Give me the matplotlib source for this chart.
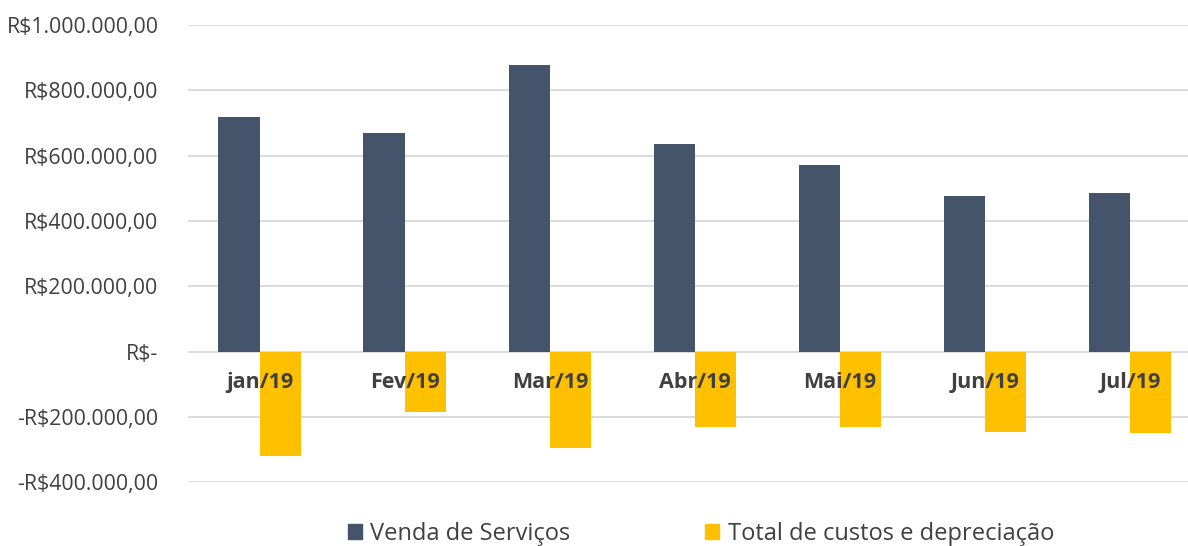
import matplotlib.pyplot as plt
import numpy as np
from matplotlib.patches import Patch
from matplotlib.ticker import FuncFormatter

plt.rcParams['font.family'] = ['Open Sans', 'DejaVu Sans']

# dados
meses = ['jan/19', 'Fev/19', 'Mar/19', 'Abr/19', 'Mai/19', 'Jun/19', 'Jul/19']
venda_servicos = [718000, 669000, 877000, 635000, 571000, 475000, 485000]
custos_depreciacao = [-319000, -184000, -297000, -230000, -230000, -245000, -251000]

AZUL = '#44546A'
AMARELO = '#FFC000'
TEXTO = '#404040'


def formato_real(v, pos):
    if abs(v) < 1:
        return 'R$-'
    s = f'{abs(v):,.2f}'.replace(',', 'X').replace('.', ',').replace('X', '.')
    return ('-' if v < 0 else '') + 'R$' + s


fig = plt.figure(figsize=(11.88, 5.46), dpi=100)
ax = fig.add_axes([0.158, 0.117, 0.842, 0.837])

x = np.arange(len(meses))
w = 0.285
ax.bar(x - w / 2, venda_servicos, w, color=AZUL, zorder=2)
ax.bar(x + w / 2, custos_depreciacao, w, color=AMARELO, zorder=2)

ax.set_ylim(-400000, 1000000)
ax.set_xlim(-0.497, 6.4)
ax.set_yticks(np.arange(-400000, 1000001, 200000))
ax.yaxis.set_major_formatter(FuncFormatter(formato_real))
ax.grid(axis='y', color='#d9d9d9', lw=1.3, zorder=0)
ax.set_axisbelow(True)
ax.set_xticks([])
ax.tick_params(axis='y', length=0, labelsize=15.3, labelcolor=TEXTO, pad=21)
for s in ax.spines.values():
    s.set_visible(False)

# rótulos das categorias sobre as barras
for i, m in enumerate(meses):
    ax.annotate(m, (i, 0), xytext=(0, -31), textcoords='offset pixels',
                ha='center', va='center', fontsize=15.5, fontweight='bold',
                color=TEXTO, zorder=5)

handles = [Patch(color=AZUL, label='Venda de Serviços'),
           Patch(color=AMARELO, label='Total de custos e depreciação')]
fig.legend(handles=handles, loc='center', bbox_to_anchor=(0.590, 0.022), ncol=2,
           frameon=False, fontsize=17, handlelength=0.6, handleheight=0.6,
           handletextpad=0.35, columnspacing=5.7, labelcolor=TEXTO)

fig.savefig('out.png', dpi=100)
